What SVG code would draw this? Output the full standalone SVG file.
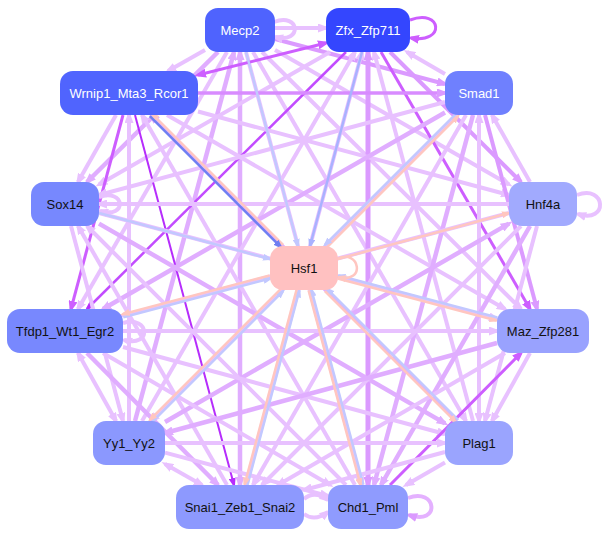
<svg xmlns="http://www.w3.org/2000/svg" width="608" height="536" viewBox="0 0 608 536">
<style>
.n text{font-family:"Liberation Sans",Arial,sans-serif;font-size:13px;text-anchor:middle}
.w{fill:#ffffff}.b{fill:#111111}
.e line,.e path{fill:none;stroke-linecap:butt}
.L{stroke:#e8c1ff;stroke-width:4;marker-end:url(#aL)}
.L2{stroke:#e0adff;stroke-width:4.5;marker-end:url(#aL2)}
.M{stroke:#db9aff;stroke-width:4;marker-end:url(#aM)}
.D{stroke:#cd5eff;stroke-width:3;marker-end:url(#aD)}
.V{stroke:#b62dfc;stroke-width:2;marker-end:url(#aV)}
.P{stroke:#ffc6c0;stroke-width:2.5;marker-end:url(#aP)}
.B{stroke:#c2c8ff;stroke-width:2.5;marker-end:url(#aB)}
.B2{stroke:#a9b2ff;stroke-width:2.5;marker-end:url(#aB2)}
.DB{stroke:#6f7ff2;stroke-width:2.5;marker-end:url(#aDB)}
.bi{marker-start:url(#aL)}
</style>
<defs>
<marker id="aL" viewBox="0 0 12 9" refX="8" refY="4.5" markerWidth="12" markerHeight="9" markerUnits="userSpaceOnUse" orient="auto-start-reverse"><path d="M0,0L12,4.5L0,9z" fill="#e8c1ff"/></marker>
<marker id="aL2" viewBox="0 0 12 9" refX="8" refY="4.5" markerWidth="12" markerHeight="9" markerUnits="userSpaceOnUse" orient="auto-start-reverse"><path d="M0,0L12,4.5L0,9z" fill="#e0adff"/></marker>
<marker id="aM" viewBox="0 0 12 9" refX="8" refY="4.5" markerWidth="12" markerHeight="9" markerUnits="userSpaceOnUse" orient="auto-start-reverse"><path d="M0,0L12,4.5L0,9z" fill="#db9aff"/></marker>
<marker id="aD" viewBox="0 0 12 9" refX="8" refY="4.5" markerWidth="12" markerHeight="9" markerUnits="userSpaceOnUse" orient="auto-start-reverse"><path d="M0,0L12,4.5L0,9z" fill="#cd5eff"/></marker>
<marker id="aV" viewBox="0 0 10 7" refX="7" refY="3.5" markerWidth="10" markerHeight="7" markerUnits="userSpaceOnUse" orient="auto-start-reverse"><path d="M0,0L10,3.5L0,7z" fill="#b62dfc"/></marker>
<marker id="aP" viewBox="0 0 10 7" refX="7" refY="3.5" markerWidth="10" markerHeight="7" markerUnits="userSpaceOnUse" orient="auto-start-reverse"><path d="M0,0L10,3.5L0,7z" fill="#ffc6c0"/></marker>
<marker id="aB" viewBox="0 0 10 7" refX="7" refY="3.5" markerWidth="10" markerHeight="7" markerUnits="userSpaceOnUse" orient="auto-start-reverse"><path d="M0,0L10,3.5L0,7z" fill="#c2c8ff"/></marker>
<marker id="aB2" viewBox="0 0 10 7" refX="7" refY="3.5" markerWidth="10" markerHeight="7" markerUnits="userSpaceOnUse" orient="auto-start-reverse"><path d="M0,0L10,3.5L0,7z" fill="#a9b2ff"/></marker>
<marker id="aDB" viewBox="0 0 10 7" refX="7" refY="3.5" markerWidth="10" markerHeight="7" markerUnits="userSpaceOnUse" orient="auto-start-reverse"><path d="M0,0L10,3.5L0,7z" fill="#6f7ff2"/></marker>
</defs>
<rect width="608" height="536" fill="#ffffff"/>
<g id="connectors" class="e">
<line class="L" x1="205" y1="50" x2="168" y2="71"/>
<line class="M" x1="275" y1="39" x2="445" y2="84"/>
<line class="L2" x1="218" y1="52" x2="87" y2="182"/>
<line class="L" x1="275" y1="50" x2="509" y2="184.5"/>
<line class="L" x1="227" y1="52" x2="78" y2="309"/>
<line class="L" x1="262" y1="52" x2="521" y2="309"/>
<line class="L2" x1="135" y1="421" x2="234" y2="52"/>
<line class="L" x1="253" y1="52" x2="466" y2="421"/>
<line class="L2 bi" style="marker-start:url(#aL2)" x1="240" y1="52" x2="240" y2="485"/>
<line class="L" x1="246" y1="52" x2="362" y2="485"/>
<line class="D" style="marker-start:url(#aD)" x1="326" y1="43" x2="198" y2="75"/>
<line class="L" x1="445" y1="74" x2="407" y2="52"/>
<line class="L" x1="330" y1="52" x2="99" y2="184.5"/>
<line class="M" x1="390" y1="52" x2="521" y2="182"/>
<line class="V" style="stroke:#c24cff;stroke-width:2.5" x1="346" y1="52" x2="87" y2="309"/>
<line class="D" x1="381" y1="52" x2="530" y2="309"/>
<line class="L" x1="142" y1="421" x2="355" y2="52"/>
<line class="L" x1="473" y1="421" x2="374" y2="52"/>
<line class="L" x1="246" y1="485" x2="362" y2="52"/>
<line class="M" style="stroke-width:5;marker-start:url(#aM)" x1="368" y1="52" x2="368" y2="485"/>
<line class="M" style="stroke:#d88bff;stroke-width:3.5" x1="198" y1="93" x2="445" y2="93"/>
<line class="L" x1="116" y1="115" x2="78" y2="182"/>
<line class="L" x1="198" y1="111.5" x2="509" y2="195"/>
<line class="D" x1="123" y1="115" x2="71" y2="309"/>
<line class="L" x1="167" y1="115" x2="505" y2="309"/>
<line class="L" x1="129" y1="421" x2="129" y2="115"/>
<line class="L2" x1="457" y1="421" x2="151" y2="115"/>
<line class="V" x1="135" y1="115" x2="234" y2="485"/>
<line class="L" x1="355" y1="485" x2="142" y2="115"/>
<line class="L" x1="445" y1="102" x2="99" y2="195"/>
<line class="L" x1="530" y1="182" x2="492" y2="115"/>
<line class="L2" x1="445" y1="112.5" x2="103" y2="309"/>
<line class="M" x1="485" y1="115" x2="537" y2="309"/>
<line class="L" x1="457" y1="115" x2="151" y2="421"/>
<line class="L bi" x1="479" y1="115" x2="479" y2="421"/>
<line class="L" x1="466" y1="115" x2="253" y2="485"/>
<line class="L2" x1="473" y1="115" x2="374" y2="485"/>
<line class="L" x1="509" y1="204" x2="99" y2="204"/>
<line class="L" x1="99" y1="213" x2="497" y2="319"/>
<line class="L" x1="71" y1="226" x2="123" y2="421"/>
<line class="L2" x1="99" y1="223.6" x2="445" y2="423.4"/>
<line class="L" x1="227" y1="485" x2="78" y2="226"/>
<line class="L" x1="346" y1="485" x2="87" y2="226"/>
<line class="L" x1="509" y1="213" x2="123" y2="315.6"/>
<line class="L2" x1="165" y1="422" x2="509" y2="223.6"/>
<line class="L" x1="537" y1="226" x2="485" y2="421"/>
<line class="L" x1="521" y1="226" x2="262" y2="485"/>
<line class="L2" x1="530" y1="226" x2="381" y2="485"/>
<line class="L" x1="123" y1="331" x2="497" y2="331"/>
<line class="L bi" x1="78" y1="353" x2="116" y2="421"/>
<line class="L" x1="123" y1="347" x2="445" y2="434"/>
<line class="L2" x1="87" y1="353" x2="218" y2="485"/>
<line class="L" x1="103" y1="353" x2="330" y2="485"/>
<line class="L2" x1="497" y1="343" x2="165" y2="433"/>
<line class="L" x1="530" y1="353" x2="492" y2="421"/>
<line class="L" x1="505" y1="353" x2="278" y2="485"/>
<line class="D" x1="390" y1="485" x2="521" y2="353"/>
<line class="L" x1="165" y1="443" x2="445" y2="443"/>
<line class="L bi" x1="165" y1="464" x2="202" y2="485"/>
<line class="L" x1="165" y1="452.6" x2="328" y2="496"/>
<line class="L" x1="445" y1="452" x2="304" y2="490"/>
<line class="L" x1="445" y1="462.6" x2="406" y2="485"/>
<line class="L" x1="275" y1="28" x2="326" y2="28"/>
<path class="L" d="M274,22 C300,12 303,44 275,37"/>
<path class="D" d="M410,20 C442,8 446,44 411,38"/>
<path class="L" d="M577,195 C606,184 609,224 578,214"/>
<path class="M" style="stroke:#e4b1ff" d="M408,498 C437,487 441,526 409,515"/>
<path class="L" d="M99,197 C125,188 128,219 100,211"/>
<path class="L" d="M123,323 C150,315 152,348 124,340"/>
<path class="L" d="M304,499 C312,492 320,494 328,500"/>
<path class="L" d="M304,514 C312,520 320,518 328,512"/>
<line class="B" x1="246" y1="52" x2="298" y2="246"/>
<line class="B2" x1="362" y1="52" x2="310" y2="246"/>
<line class="P" x1="283.1" y1="244.9" x2="152.1" y2="113.9"/>
<line class="DB" x1="149.9" y1="116.1" x2="280.9" y2="247.1"/>
<line class="P" x1="327.1" y1="247.1" x2="458.1" y2="116.1"/>
<line class="B" x1="455.9" y1="113.9" x2="324.9" y2="244.9"/>
<line class="B" x1="99" y1="213" x2="270" y2="259"/>
<line class="P" x1="338" y1="259" x2="509" y2="213"/>
<line class="B" x1="123.4" y1="317.2" x2="270.4" y2="278.5"/>
<line class="P" x1="269.6" y1="275.5" x2="122.6" y2="314.2"/>
<line class="P" x1="337.6" y1="278.5" x2="496.6" y2="320.5"/>
<line class="B" x1="497.4" y1="317.5" x2="338.4" y2="275.5"/>
<line class="B" x1="152.1" y1="422.1" x2="283.1" y2="291.1"/>
<line class="P" x1="280.9" y1="288.9" x2="149.9" y2="419.9"/>
<line class="B" x1="458.1" y1="419.9" x2="327.1" y2="288.9"/>
<line class="P" x1="324.9" y1="291.1" x2="455.9" y2="422.1"/>
<line class="B" x1="247.4" y1="485.4" x2="299.4" y2="290.4"/>
<line class="P" x1="296.6" y1="289.6" x2="244.6" y2="484.6"/>
<line class="B" x1="363.4" y1="484.6" x2="311.4" y2="289.6"/>
<line class="P" x1="308.6" y1="290.4" x2="360.6" y2="485.4"/>
<path class="P" d="M337,259 C360,248 366,284 339,277"/>
</g>
<g id="node-Mecp2" class="n"><rect x="205" y="8" width="70" height="44" rx="13" fill="#4f63fe"/><text class="w" x="240" y="34.5">Mecp2</text></g>
<g id="node-Zfx_Zfp711" class="n"><rect x="326" y="8" width="84" height="44" rx="13" fill="#3446fe"/><text class="w" x="368" y="34.5">Zfx_Zfp711</text></g>
<g id="node-Wrnip1_Mta3_Rcor1" class="n"><rect x="60" y="71" width="138" height="44" rx="13" fill="#5064fe"/><text class="w" x="129" y="97.5">Wrnip1_Mta3_Rcor1</text></g>
<g id="node-Smad1" class="n"><rect x="445" y="71" width="68" height="44" rx="13" fill="#6f80fe"/><text class="w" x="479" y="97.5">Smad1</text></g>
<g id="node-Sox14" class="n"><rect x="31" y="182" width="68" height="44" rx="13" fill="#7788fe"/><text class="b" x="65" y="208.5">Sox14</text></g>
<g id="node-Hnf4a" class="n"><rect x="509" y="182" width="68" height="44" rx="13" fill="#a1aafe"/><text class="b" x="543" y="208.5">Hnf4a</text></g>
<g id="node-Hsf1" class="n"><rect x="270" y="246" width="68" height="44" rx="13" fill="#ffc1c1"/><text class="b" x="304" y="272.5">Hsf1</text></g>
<g id="node-Tfdp1_Wt1_Egr2" class="n"><rect x="7" y="309" width="116" height="44" rx="13" fill="#7888fe"/><text class="b" x="65" y="335.5">Tfdp1_Wt1_Egr2</text></g>
<g id="node-Maz_Zfp281" class="n"><rect x="497" y="309" width="92" height="44" rx="13" fill="#99a2fe"/><text class="b" x="543" y="335.5">Maz_Zfp281</text></g>
<g id="node-Yy1_Yy2" class="n"><rect x="93" y="421" width="72" height="44" rx="13" fill="#8b98fe"/><text class="b" x="129" y="447.5">Yy1_Yy2</text></g>
<g id="node-Plag1" class="n"><rect x="445" y="421" width="68" height="44" rx="13" fill="#9aa4fe"/><text class="b" x="479" y="447.5">Plag1</text></g>
<g id="node-Snai1_Zeb1_Snai2" class="n"><rect x="176" y="485" width="128" height="44" rx="13" fill="#8d99fe"/><text class="b" x="240" y="511.5">Snai1_Zeb1_Snai2</text></g>
<g id="node-Chd1_Pml" class="n"><rect x="328" y="485" width="80" height="44" rx="13" fill="#8f9bfe"/><text class="b" x="368" y="511.5">Chd1_Pml</text></g>
</svg>
